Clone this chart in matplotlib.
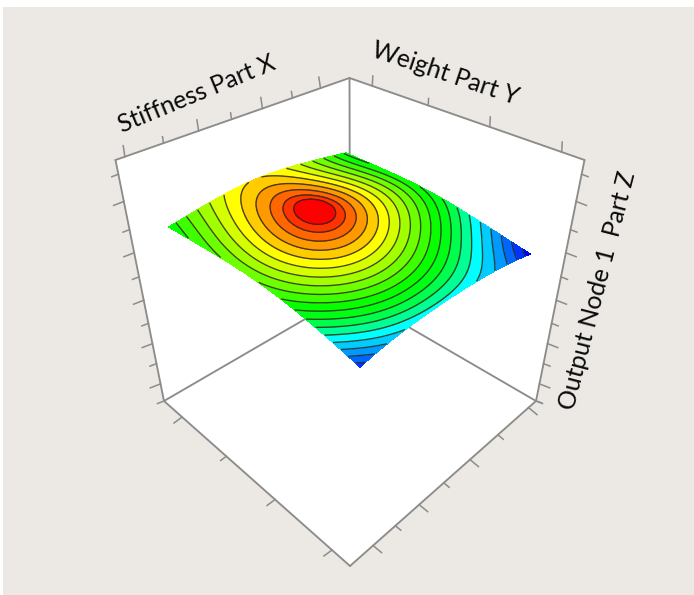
import numpy as np
import matplotlib
matplotlib.use("Agg")
import matplotlib.pyplot as plt
from matplotlib.colors import hsv_to_rgb
from numpy.polynomial import polynomial as P

# ---------- data ----------
stiffness_x = [0, .125, .25, .375, .5, .625, .75, .875, 1]
weight_y = [0, .125, .25, .375, .5, .625, .75, .875, 1]
# output in contour-band units, row = weight, column = stiffness
output_row0 = [9.3, 11.4, 13.2, 14.5, 14.9, 14.2, 12.8, 11.0, 8.7]
output_row1 = [10.2, 12.5, 14.6, 16.4, 16.95, 15.75, 13.6, 11.5, 9.1]
output_row2 = [10.9, 13.3, 15.75, 17.9, 18.45, 16.7, 14.1, 11.8, 9.2]
output_row3 = [11.2, 13.7, 16.3, 18.85, 19.2, 16.9, 14.1, 11.7, 9.1]
output_row4 = [10.9, 13.2, 15.5, 17.5, 17.5, 15.7, 13.4, 10.9, 8.2]
output_row5 = [9.5, 11.7, 13.6, 14.7, 14.6, 13.3, 11.4, 9.2, 6.8]
output_row6 = [7.4, 9.5, 10.9, 11.6, 11.4, 10.5, 8.9, 7.0, 4.6]
output_row7 = [4.5, 6.6, 7.9, 8.5, 8.4, 7.7, 6.3, 4.4, 2.4]
output_row8 = [1.4, 3.6, 5.0, 5.6, 5.8, 5.5, 4.7, 2.8, 0.4]
output_peak = 20.0
contour_levels = list(range(0, 20)) + [22]
# hue of each band in degrees, from the lowest band (blue) up to the summit (red)
band_hues = [240, 228, 216, 204, 192, 180, 155, 138, 125, 118,
             106, 94, 82, 70, 60, 48, 36, 24, 12, 0]

x_ticks = [.04, .205, .355, .496, .628, .756, .876]
x_long = [1, 0, 1, 0, 1, 0, 1]
y_ticks = [.097, .335, .597, .903]
y_long = [1, 0, 1, 1]
z_ticks = [.059, .172, .289, .385, .485, .582, .678, .762, .845, .929, 1.0]
z_long = [0, 1, 0, 1, 0, 1, 0, 1, 0, 1, 0]

label_x = "Stiffness Part X"
label_y = "Weight Part Y"
label_z = "Output Node 1  Part Z"

# ---------- layout ----------
BG = "#ECE9E5"
EDGE = "#8C8C8A"
FLOOR = dict(left=(164, 401), back=(350, 293), right=(536, 401), front=(350, 566))
TOP = dict(left=(115.5, 160), back=(349.5, 78), right=(584.5, 160))
# footprint of the surface in picture space
FOOT = dict(L=(169, 227), T=(346, 153), R=(530, 254), B=(360, 367))
PX_PER_UNIT = 1.9

fig = plt.figure(figsize=(6.94, 5.95), dpi=100, facecolor="white")
ax = fig.add_axes([0, 0, 1, 1])
ax.set_xlim(0, 694)
ax.set_ylim(595, 0)
ax.axis("off")
ax.fill([3, 694, 694, 3], [7, 7, 595, 595], color=BG, lw=0, zorder=0)


def lerp(a, b, f):
    return (a[0] + (b[0] - a[0]) * f, a[1] + (b[1] - a[1]) * f)


# walls and floor
for poly in ([TOP["left"], TOP["back"], FLOOR["back"], FLOOR["left"]],
             [TOP["back"], TOP["right"], FLOOR["right"], FLOOR["back"]],
             [FLOOR["left"], FLOOR["back"], FLOOR["right"], FLOOR["front"]]):
    xs, ys = zip(*poly)
    ax.fill(xs, ys, color="white", lw=0, zorder=1)

for a, b in ((TOP["left"], TOP["back"]), (TOP["back"], TOP["right"]),
             (TOP["left"], FLOOR["left"]), (TOP["right"], FLOOR["right"]),
             (TOP["back"], FLOOR["back"]), (FLOOR["left"], FLOOR["back"]),
             (FLOOR["right"], FLOOR["back"]), (FLOOR["left"], FLOOR["front"]),
             (FLOOR["right"], FLOOR["front"])):
    ax.plot([a[0], b[0]], [a[1], b[1]], color=EDGE, lw=1.35, zorder=2,
            solid_capstyle="round")


def ticks(a, b, fracs, longs, direction, lo, hi):
    for f, l in zip(fracs, longs):
        p = lerp(a, b, f)
        n = hi if l else lo
        ax.plot([p[0], p[0] + direction[0] * n], [p[1], p[1] + direction[1] * n],
                color=EDGE, lw=1.1, zorder=2)


ticks(TOP["left"], TOP["back"], x_ticks, x_long, (-.15, -1), 6.5, 11)
ticks(TOP["back"], TOP["right"], y_ticks, y_long, (.05, -1), 7, 10)
ticks(TOP["right"], FLOOR["right"], z_ticks, z_long, (.93, .36), 7, 11)
ticks(TOP["left"], FLOOR["left"], z_ticks, z_long, (-.93, .36), 7, 11)
ticks(FLOOR["left"], FLOOR["front"], y_ticks, y_long, (-.8, .6), 7, 10)
ticks(FLOOR["right"], FLOOR["front"], x_ticks[::-1], x_long[::-1], (.77, .64), 7, 11)
ticks(FLOOR["right"], FLOOR["front"], [0], [0], (.9, .3), 6, 6)

# surface: weighted least-squares polynomial through the squared drop below the
# peak, which keeps the contour rings elliptical around the summit
output = np.array([output_row0, output_row1, output_row2, output_row3, output_row4,
                   output_row5, output_row6, output_row7, output_row8])
S, W = np.meshgrid(stiffness_x, weight_y)
DEG = (4, 4)
A = P.polyvander2d(S.ravel(), W.ravel(), DEG)
drop = output_peak - output.ravel()
weight = 1 / (1 + drop)
coef = np.linalg.lstsq(A * weight[:, None], drop ** 2 * weight, rcond=None)[0].reshape(DEG[0] + 1, DEG[1] + 1)
s, t = np.meshgrid(np.linspace(0, 1, 161), np.linspace(0, 1, 161))
vals = output_peak - np.sqrt(np.clip(P.polyval2d(s, t, coef), 0, None))


def bil(key):
    return ((1 - s) * (1 - t) * FOOT["L"][key] + s * (1 - t) * FOOT["T"][key]
            + s * t * FOOT["R"][key] + (1 - s) * t * FOOT["B"][key])


corner = ((1 - s) * (1 - t) * vals[0, 0] + s * (1 - t) * vals[0, -1]
          + s * t * vals[-1, -1] + (1 - s) * t * vals[-1, 0])
px = bil(0)
py = bil(1) - PX_PER_UNIT * (vals - corner)

band_colors = [hsv_to_rgb((h / 360, 1, 1)) for h in band_hues]
cf = ax.contourf(px, py, vals, levels=contour_levels, colors=band_colors, zorder=3)
cf.set_edgecolor("face")
cf.set_linewidth(0.3)
ax.contour(px, py, vals, levels=contour_levels[1:-1], colors="#2A2A1E", linewidths=1.0,
           alpha=.85, zorder=4)

# labels
font = dict(family="Lato", color="#0A0A0A", fontsize=17.8, ha="center", va="center",
            rotation_mode="anchor")
ax.text(197, 94, label_x, rotation=22.5, **font)
ax.text(445, 73, label_y, rotation=-18.5, **font)
ax.text(598, 291, label_z, rotation=75.5, **font)

fig.savefig("out.png", dpi=100, facecolor="white")
